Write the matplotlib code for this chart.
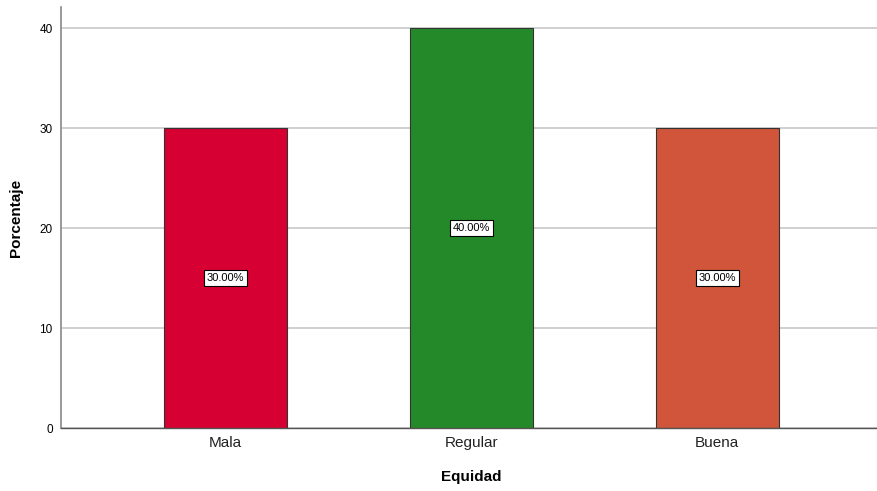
import matplotlib
matplotlib.use('Agg')
import matplotlib.pyplot as plt

categorias = ['Mala', 'Regular', 'Buena']
porcentajes = [30.0, 40.0, 30.0]
colores = ['#D70032', '#248A29', '#D0553A']
ticks_y = [0, 10, 20, 30, 40]

plt.rcParams['font.family'] = ['Liberation Sans', 'DejaVu Sans']

fig = plt.figure(figsize=(8.78, 4.91), dpi=100)
ax = fig.add_axes([0.0695, 0.1283, 0.935, 0.8574])

x = range(len(categorias))
ax.set_axisbelow(True)
ax.yaxis.grid(True, color='#C8C8C8', linewidth=1.2)
barras = ax.bar(x, porcentajes, width=0.5, color=colores,
                edgecolor='#333333', linewidth=0.8, zorder=2)

for i, v in enumerate(porcentajes):
    ax.text(i, v / 2, f'{v:.2f}%', ha='center', va='center', fontsize=8,
            bbox=dict(boxstyle='square,pad=0.25', facecolor='white',
                      edgecolor='black', linewidth=0.8), zorder=3)

ax.set_xlim(-0.67, 2.67)
ax.set_ylim(0, 42.1)
ax.set_xticks(list(x))
ax.set_xticklabels(categorias, fontsize=11, color='#222222')
ax.set_yticks(ticks_y)
ax.set_yticklabels([str(t) for t in ticks_y], fontsize=8.5)
ax.tick_params(axis='x', length=0, pad=6)
ax.tick_params(axis='y', length=0, pad=6)

for lado in ['top', 'right']:
    ax.spines[lado].set_visible(False)
ax.spines['left'].set_color('#888888')
ax.spines['left'].set_linewidth(1.2)
ax.spines['bottom'].set_color('#555555')
ax.spines['bottom'].set_linewidth(1.0)

ax.set_xlabel('Equidad', fontsize=11, fontweight='bold', labelpad=14)
ax.set_ylabel('Porcentaje', fontsize=11, fontweight='bold', labelpad=12)

fig.savefig('out.png', dpi=100)
